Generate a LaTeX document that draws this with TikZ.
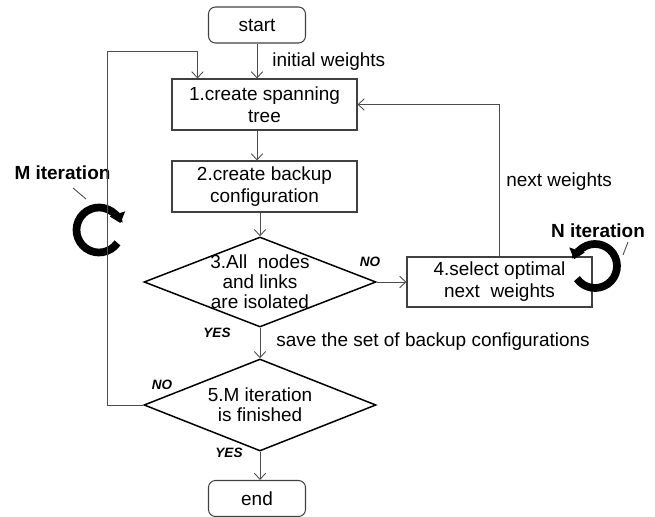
\documentclass[tikz,border=0pt]{standalone}
\usepackage{fontspec}
\setmainfont{Liberation Sans}
\usetikzlibrary{shapes.geometric, arrows.meta}

\begin{document}
\begin{tikzpicture}[
  font=\fontsize{10.8}{12.5}\selectfont,
  >={Straight Barb[length=3.5pt,width=6.5pt]},
  conn/.style={draw=black!70, line width=0.5pt},
  procbox/.style={draw=black!75, line width=0.6pt, minimum width=3.7cm, minimum height=1.02cm, align=center, inner sep=0pt},
  termbox/.style={draw=black!75, line width=0.6pt, rounded corners=4pt, minimum width=1.94cm, minimum height=0.72cm, inner sep=0pt},
  decision/.style={draw, line width=0.85pt, diamond, inner sep=0pt},
  dtext/.style={align=center, font=\fontsize{10.8}{11.4}\selectfont},
  lbl/.style={inner sep=0pt, anchor=west},
  yesno/.style={inner sep=0pt, font=\fontsize{7.7}{9}\selectfont\bfseries\itshape},
  iter/.style={inner sep=0pt, font=\fontsize{10.8}{12.5}\selectfont\bfseries},
  looparrow/.style={line width=4.4pt, -{Triangle[length=5.5pt,width=9pt]}}
]
  \useasboundingbox (0,0) rectangle (13.1,-10.34);

  % main column
  \node[termbox] (st) at (5.14,-0.5) {start};
  \node[procbox] (b1) at (5.29,-2.09) {1.create spanning\\tree};
  \node[procbox] (b2) at (5.29,-3.73) {2.create backup\\configuration};
  \node[decision, minimum width=4.64cm, minimum height=1.8cm] (d3) at (5.2,-5.64) {};
  \node[dtext] at (d3) {3.All\ \ nodes\\and links\\are isolated};
  \node[procbox, minimum height=1.0cm] (b4) at (9.99,-5.64) {4.select optimal\\next\ \ weights};
  \node[decision, minimum width=4.64cm, minimum height=1.84cm] (d5) at (5.2,-8.1) {};
  \node[dtext] at (d5) {5.M iteration\\is finished};
  \node[termbox] (en) at (5.14,-9.97) {end};

  % iteration markers
  \coordinate (mc) at (1.98,-4.6);
  \coordinate (nc) at (11.9,-5.32);
  \draw[looparrow] ([shift={(-35:0.45)}]mc) arc[start angle=-35, end angle=-342, radius=0.45];
  \draw[looparrow] ([shift={(215:0.44)}]nc) arc[start angle=215, end angle=522, radius=0.44];
  \node[iter] (mlab) at (1.25,-3.46) {M iteration};
  \node[iter] (nlab) at (11.96,-4.62) {N iteration};
  \coordinate (mtick) at (1.72,-3.98);
  \coordinate (ntick) at (12.46,-5.1);
  \draw[conn] (1.46,-3.76) -- (mtick);
  \draw[conn] (12.56,-4.84) -- (ntick);

  % connectors
  \draw[conn,->] (st.south) -- (st.south |- b1.north);
  \draw[conn,->] (b1.south -| st) -- (b2.north -| st);
  \draw[conn,->] (b2.south -| d3.north) -- (d3.north);
  \draw[conn,->] (d3.east) -- (b4.west);
  \draw[conn,->] (d3.south) -- (d5.north);
  \draw[conn,->] (d5.south) -- (d5.south |- en.north);
  \draw[conn,->] (b4.north) |- (b1.east);
  \coordinate (mleft) at (2.14,-1.02);
  \coordinate (mentry) at ([xshift=0.52cm]b1.north west);
  \draw[conn,->] (d5.west) -| (mleft) -| (mentry);

  % labels
  \node[lbl] at (5.44,-1.24) {initial weights};
  \node[lbl] at (10.12,-3.64) {next weights};
  \node[lbl] at (5.52,-6.84) {save the set of backup configurations};
  \node[yesno] at (7.4,-5.24) {NO};
  \node[yesno] at (4.34,-6.66) {YES};
  \node[yesno] at (3.24,-7.7) {NO};
  \node[yesno] at (4.58,-9.06) {YES};
\end{tikzpicture}
\end{document}
